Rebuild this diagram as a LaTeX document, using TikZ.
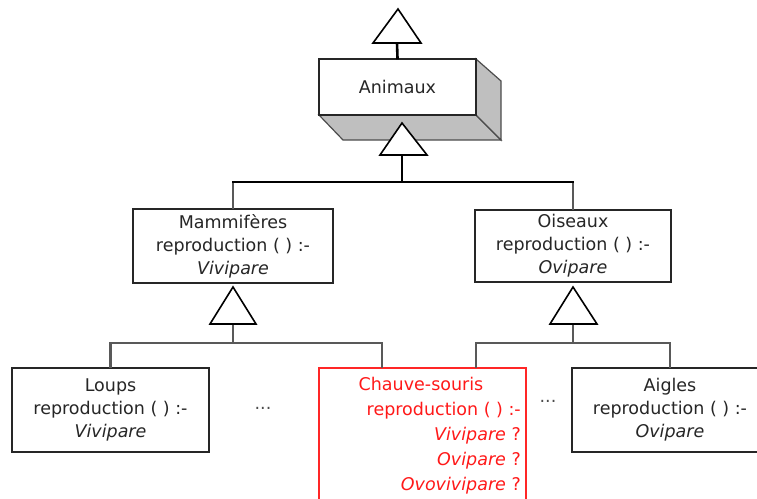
\documentclass[tikz,border=0pt]{standalone}
\usepackage{fontspec}
\setmainfont{DejaVu Sans}
\begin{document}
\begin{tikzpicture}[x=1pt,y=-1pt,
  box/.style={draw=black!85,line width=2pt,fill=white,inner sep=0pt,align=center,
    text=black!85,font=\fontsize{17.5}{23}\selectfont},
  conn/.style={draw=black!65,line width=2.6pt,line cap=rect},
  tri/.style={draw=black,line width=1.6pt,fill=white,line join=miter},
  face/.style={draw=black!70,line width=1.2pt,fill=black!25},
  lbl/.style={inner sep=0pt,font=\fontsize{17.5}{25}\selectfont}]
\useasboundingbox (0,0) rectangle (757,498);
% Animaux 3D box
\path[face] (319,115) -- (476,115) -- (501,140) -- (343,140) -- cycle;
\path[face] (476,59) -- (501,81) -- (501,140) -- (476,115) -- cycle;
\node[box,minimum width=157pt,minimum height=56pt] (animaux) at (397.5,87) {Animaux};
% top triangle
\coordinate (t0) at (397,43);
\draw[conn,draw=black] (t0) -- (animaux.north);
\draw[tri] (373,43) -- (398,9) -- (421,43) -- cycle;
% level 2 boxes
\node[box,minimum width=200pt,minimum height=74pt] (mam) at (233,246)
  {Mammifères\\reproduction ( ) :-\\\textit{Vivipare}};
\node[box,minimum width=196pt,minimum height=72pt] (ois) at (573,246)
  {Oiseaux\\reproduction ( ) :-\\\textit{Ovipare}};
% connector Animaux -> level 2
\coordinate (t1) at (402,155);
\coordinate (h1) at (402,182);
\draw[conn,draw=black] (t1) -- (h1);
\draw[conn] (mam.north |- h1) -- (mam.north);
\draw[conn] (ois.north |- h1) -- (ois.north);
\draw[conn,draw=black] (mam.north |- h1) -- (ois.north |- h1);
\draw[tri] (380,155) -- (402,123) -- (427,155) -- cycle;
% level 3 boxes
\node[box,minimum width=197pt,minimum height=84pt] (loups) at (110.5,410)
  {Loups\\reproduction ( ) :-\\\textit{Vivipare}};
\node[box,minimum width=196pt,minimum height=84pt] (aigles) at (670,410)
  {Aigles\\reproduction ( ) :-\\\textit{Ovipare}};
\node[draw=red!85,line width=2pt,fill=white,minimum width=207pt,minimum height=160pt,inner sep=0pt]
  (chauve) at (422.5,448) {};
\node[lbl,text=red!90] (cs1) at (421,384) {Chauve-souris};
\node[lbl,text=red!90,align=right,anchor=north east] (cs2) at (521,402)
  {reproduction ( ) :-\\\textit{Vivipare} ?\\\textit{Ovipare} ?\\\textit{Ovovivipare} ?};
\node[lbl,text=black!70] (dots1) at (263,408) {...};
\node[lbl,text=black!70] (dots2) at (548,401) {...};
% Mammiferes -> level 3
\coordinate (t2) at (233,324);
\coordinate (h2) at (233,343);
\coordinate (h2r) at (382,343);
\draw[conn] (t2) -- (h2);
\draw[conn] (loups.north) |- (h2r) -- (h2r |- chauve.north);
\draw[tri] (210,324) -- (233,287) -- (256,324) -- cycle;
% Oiseaux -> level 3
\coordinate (t3) at (573,324);
\coordinate (h3) at (573,343);
\coordinate (h3l) at (476,343);
\draw[conn] (t3) -- (h3);
\draw[conn] (h3l |- chauve.north) -- (h3l) -| (aigles.north);
\draw[tri] (550,324) -- (573,287) -- (597,324) -- cycle;
\end{tikzpicture}
\end{document}
